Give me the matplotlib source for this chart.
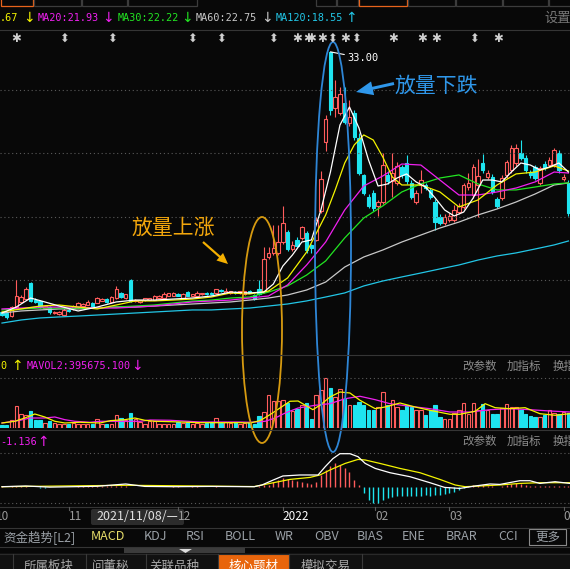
import numpy as np
import matplotlib
matplotlib.use("Agg")
import matplotlib.pyplot as plt
from matplotlib.patches import Ellipse, Rectangle, FancyArrow, FancyBboxPatch
from matplotlib.transforms import blended_transform_factory


# Daily candles, 2021/10/12 .. 2022/04/01
open_ = [12.5, 12.45, 12.2, 12.9, 13.3, 13.55, 14.8, 13.5, 13.4, 12.85,
         12.9, 12.45, 12.35, 12.3, 12.7, 12.8, 12.9, 13.0, 13.1, 13.25,
         13.25, 13.4, 13.55, 13.3, 13.65, 14.0, 13.6, 15.0, 13.35, 13.3,
         13.45, 13.5, 13.5, 13.65, 13.65, 13.8, 13.8, 13.95, 13.65, 14.1,
         13.8, 13.8, 13.9, 14.05, 14.05, 14.0, 14.25, 14.05, 14.0, 14.1,
         14.0, 13.9, 14.2, 13.85, 14.3, 14.1, 16.85, 17.17, 17.2, 18.0,
         18.8, 17.5, 18.2, 18.35, 18.7, 17.8, 18.2, 20.5, 25.9, 33.0,
         28.6, 28.2, 29.0, 27.4, 28.2, 26.2, 23.3, 21.6, 21.9, 20.9,
         21.2, 23.3, 22.8, 22.7, 23.9, 24.25, 22.7, 21.2, 22.5, 22.5,
         22.1, 21.2, 20.0, 19.55, 19.8, 19.8, 20.4, 20.8, 22.35, 21.7,
         22.5, 24.25, 23.15, 23.15, 21.4, 21.5, 23.3, 23.7, 24.25, 25.05,
         24.65, 23.55, 23.95, 22.7, 24.2, 24.1, 24.1, 25.05, 23.0, 22.7]
high = [12.6, 12.5, 13.0, 15.0, 13.85, 14.5, 14.9, 13.6, 13.5, 13.1,
        13.0, 12.6, 12.6, 12.8, 12.8, 13.1, 13.3, 13.25, 13.45, 13.3,
        13.7, 13.6, 13.6, 13.75, 14.6, 14.1, 13.95, 15.1, 13.55, 13.5,
        13.65, 13.65, 13.85, 13.85, 14.1, 14.05, 14.1, 14.0, 14.0, 14.15,
        13.95, 14.2, 14.05, 14.1, 14.1, 14.35, 14.3, 14.4, 14.2, 14.15,
        14.2, 14.2, 14.25, 13.9, 15.0, 17.6, 17.6, 19.4, 19.4, 20.9,
        19.0, 18.1, 18.4, 19.3, 18.9, 17.9, 20.0, 23.6, 28.0, 33.0,
        30.8, 30.2, 30.2, 29.2, 28.4, 26.6, 23.4, 21.8, 22.1, 21.3,
        25.0, 23.6, 25.0, 24.3, 24.1, 24.9, 22.9, 22.1, 23.7, 22.7,
        22.3, 21.4, 20.2, 20.25, 20.3, 20.95, 21.1, 22.7, 23.5, 24.2,
        24.6, 24.95, 23.7, 23.4, 21.6, 23.3, 24.5, 25.7, 25.75, 26.05,
        24.9, 23.7, 24.1, 24.0, 24.4, 24.7, 25.45, 25.3, 23.4, 22.9]
low = [12.2, 12.0, 12.1, 12.8, 13.2, 13.5, 13.3, 13.2, 12.8, 12.8,
       12.4, 12.35, 12.3, 12.2, 12.55, 12.7, 12.85, 12.95, 13.05, 12.9,
       13.2, 13.35, 13.25, 13.25, 13.55, 13.65, 13.55, 13.3, 13.3, 13.25,
       13.4, 13.45, 13.45, 13.6, 13.6, 13.75, 13.75, 13.75, 13.6, 13.75,
       13.75, 13.75, 13.85, 13.85, 13.85, 13.95, 14.1, 14.0, 13.95, 13.95,
       13.95, 13.85, 14.0, 13.5, 13.85, 14.0, 16.7, 17.0, 17.0, 17.9,
       17.3, 17.3, 17.6, 18.2, 17.2, 17.2, 18.1, 20.3, 25.2, 28.0,
       27.9, 28.0, 27.3, 27.2, 26.1, 23.3, 21.7, 20.7, 20.5, 20.1,
       21.0, 22.6, 21.6, 22.5, 23.1, 22.6, 21.4, 21.0, 21.9, 22.1,
       21.4, 19.0, 19.4, 19.4, 19.6, 19.6, 20.2, 20.6, 22.1, 21.5,
       20.0, 23.5, 23.0, 21.8, 20.7, 21.3, 23.1, 23.5, 24.0, 24.5,
       23.5, 23.1, 22.9, 22.5, 23.7, 23.9, 23.9, 23.5, 22.8, 20.1]
close = [12.25, 12.1, 12.9, 13.8, 13.7, 14.35, 13.4, 13.3, 12.9, 13.0,
         12.5, 12.5, 12.5, 12.7, 12.6, 13.0, 13.2, 13.15, 13.3, 12.95,
         13.6, 13.55, 13.3, 13.7, 14.35, 13.7, 13.9, 13.4, 13.5, 13.45,
         13.6, 13.6, 13.8, 13.8, 13.95, 14.0, 14.05, 13.8, 13.95, 13.8,
         13.9, 14.0, 14.0, 13.9, 13.9, 14.3, 14.15, 14.2, 14.15, 14.0,
         14.15, 14.15, 14.05, 13.55, 13.95, 16.7, 17.2, 17.56, 18.0, 19.5,
         17.5, 17.8, 17.7, 19.2, 17.4, 17.55, 19.8, 23.0, 27.7, 28.4,
         29.45, 29.7, 27.5, 27.9, 26.3, 23.5, 21.9, 20.9, 20.7, 21.2,
         24.1, 22.8, 23.5, 24.0, 23.3, 22.8, 21.6, 21.9, 22.9, 22.3,
         21.6, 19.6, 19.55, 20.0, 20.1, 20.55, 20.85, 22.5, 22.7, 23.9,
         23.2, 23.7, 23.45, 21.95, 20.9, 23.05, 24.3, 25.4, 25.4, 24.65,
         23.7, 23.3, 23.05, 23.85, 23.85, 24.5, 25.3, 23.7, 23.15, 20.3]

# volume, 万股
volume = [8, 8, 20, 55, 35, 33, 43, 20, 20, 13,
          18, 13, 10, 10, 10, 13, 10, 10, 10, 10,
          23, 10, 10, 10, 33, 25, 20, 38, 23, 15,
          10, 18, 18, 10, 10, 10, 10, 15, 13, 15,
          10, 13, 10, 13, 15, 25, 13, 15, 13, 15,
          10, 13, 15, 10, 30, 40, 83, 68, 68, 70,
          63, 43, 48, 57, 63, 23, 83, 95, 125, 100,
          78, 98, 73, 57, 57, 65, 57, 44, 44, 53,
          90, 57, 70, 53, 44, 57, 53, 46, 46, 32,
          44, 57, 28, 23, 23, 38, 44, 63, 36, 63,
          44, 61, 46, 34, 34, 51, 61, 53, 53, 46,
          34, 29, 28, 28, 32, 44, 38, 36, 40, 38]

# MACD histogram per day
macd_hist = [0.03, -0.04, 0.02, 0.08, 0.06, 0.05, -0.02, -0.05, -0.07, -0.06,
             -0.05, -0.04, -0.03, -0.02, 0.0, 0.01, 0.02, 0.02, 0.03, 0.02,
             0.04, 0.03, 0.02, 0.03, 0.06, 0.05, 0.03, -0.02, -0.04, -0.05,
             -0.04, -0.03, -0.02, -0.01, 0.0, 0.01, 0.02, 0.02, 0.01, 0.01,
             0.02, 0.02, 0.01, 0.01, 0.0, 0.02, 0.01, 0.01, 0.0, 0.0,
             -0.01, -0.02, -0.05, -0.05, 0.05, 0.12, 0.12, 0.3, 0.45, 0.58,
             0.51, 0.49, 0.40, 0.35, 0.23, 0.19, 0.35, 0.85, 1.2, 1.45,
             1.63, 1.52, 1.28, 1.05, 0.5, 0.12, -0.47, -0.93, -1.12, -1.17,
             -0.93, -0.82, -0.7, -0.68, -0.65, -0.63, -0.65, -0.68, -0.63, -0.6,
             -0.63, -0.6, -0.55, -0.5, -0.45, -0.35, -0.23, -0.12, 0.05, 0.12,
             0.1, 0.15, 0.08, 0.05, -0.03, 0.05, 0.12, 0.2, 0.25, 0.22,
             0.15, 0.08, 0.04, 0.05, 0.04, 0.06, 0.08, 0.05, 0.06, 0.07]

# moving average lines, sampled by day index
ma5_idx = [0, 3, 6, 9, 12, 16, 20, 24, 28, 32, 36, 40, 44, 48, 52, 55, 57, 59,
           61, 63, 65, 67, 69, 71, 73, 75, 77, 79, 81, 83, 85, 87, 89, 91, 93,
           95, 97, 99, 101, 103, 105, 107, 109, 111, 113, 115, 117, 119]
ma5 = [12.44, 12.91, 13.62, 13.31, 12.99, 12.6, 12.91, 13.31, 13.46, 13.46,
       13.54, 13.62, 13.78, 14.09, 14.02, 14.09, 14.72, 16.14, 17.0, 18.03,
       18.19, 20.55, 23.54, 27.24, 28.66, 27.0, 24.49, 22.44, 22.6, 23.07,
       23.39, 22.76, 22.36, 21.5, 20.55, 20.08, 20.39, 21.5, 22.91, 22.91,
       22.76, 23.54, 24.25, 24.09, 23.7, 23.94, 24.25, 23.54]
ma10_idx = [0, 4, 8, 12, 16, 20, 24, 28, 32, 36, 40, 44, 48, 52, 56, 60, 64,
            68, 70, 72, 74, 76, 78, 80, 82, 84, 88, 92, 96, 100, 104, 108,
            112, 116, 119]
ma10 = [12.52, 12.76, 12.99, 13.07, 12.91, 12.76, 13.07, 13.39, 13.39, 13.46,
        13.54, 13.7, 14.02, 13.94, 14.17, 15.2, 17.24, 20.16, 22.13, 24.25,
        25.67, 26.46, 26.06, 24.72, 23.15, 22.52, 22.52, 21.97, 20.79, 21.34,
        22.52, 23.39, 23.54, 24.02, 23.62]
ma_idx = [0, 4, 8, 12, 16, 20, 24, 28, 32, 36, 40, 44, 48, 52, 56, 60, 64,
          68, 72, 76, 80, 84, 88, 92, 96, 100, 104, 108, 112, 116, 119]
ma20 = [12.76, 12.83, 12.91, 12.91, 12.91, 12.83, 12.83, 12.91, 12.99, 13.15,
        13.31, 13.38, 13.46, 13.62, 13.78, 14.65, 16.22, 18.03, 20.55, 22.44,
        23.23, 24.17, 24.09, 22.91, 21.73, 21.73, 21.97, 22.28, 22.76, 23.54,
        23.46]
ma30 = [12.68, 12.76, 12.83, 12.83, 12.83, 12.83, 12.91, 12.99, 13.07, 13.23,
        13.38, 13.46, 13.62, 13.7, 14.09, 14.57, 15.43, 16.54, 18.35, 19.92,
        20.87, 21.97, 22.6, 23.07, 23.31, 22.6, 22.13, 22.13, 22.36, 22.6,
        22.68]
ma60 = [12.44, 12.6, 12.68, 12.76, 12.76, 12.83, 12.91, 12.91, 12.99, 13.07,
        13.15, 13.23, 13.31, 13.46, 13.62, 13.86, 14.25, 14.88, 16.06, 16.85,
        17.4, 18.03, 18.58, 19.13, 19.6, 20.16, 20.63, 21.18, 21.81, 22.52,
        22.68]
ma120 = [11.65, 11.89, 12.05, 12.13, 12.2, 12.28, 12.36, 12.44, 12.52, 12.6,
         12.68, 12.68, 12.76, 12.83, 12.99, 13.15, 13.39, 13.7, 14.02, 14.57,
         14.96, 15.28, 15.59, 15.91, 16.22, 16.61, 16.93, 17.17, 17.48, 17.8,
         18.11]

# volume averages
mavol1_idx = [0, 2.7, 4.8, 6.9, 9.0, 11.1, 13.2, 16.4, 20.6, 22.7, 25.8, 27.9,
              30.0, 32.1, 35.3, 41.6, 50.0, 52.1, 54.2, 56.3, 58.4, 60.5, 62.2,
              65.3, 66.8, 68.9, 71.0, 73.1, 75.2, 78.4, 80.5, 83.6, 86.8, 89.9,
              94.1, 96.2, 99.4, 101.5, 103.6, 106.7, 109.9, 113.0, 116.2, 119.3]
mavol1 = [12.5, 16.8, 25, 35, 27.5, 16.8, 12.5, 14.3, 12.5, 18.3, 20.8, 25,
          19.3, 16.8, 15.8, 13.3, 13.3, 12.5, 18.3, 33.3, 50, 66.8, 67.5,
          45.8, 56.8, 77.5, 90, 87.5, 69.3, 48.3, 52.5, 62.5, 52.5, 44.3,
          34.3, 34.3, 41.8, 60.8, 50.8, 48.3, 50.8, 35.8, 31.8, 35.8]
mavol2_idx = [0, 3.8, 5.9, 9.0, 11.1, 13.2, 15.3, 18.5, 20.6, 29.0, 31.1, 35.3,
              41.6, 50.0, 52.1, 55.3, 57.4, 59.5, 62.2, 65.8, 68.9, 72.1, 75.2,
              78.4, 81.5, 85.7, 89.9, 94.1, 98.3, 102.5, 106.7, 110.9, 115.1,
              119.3]
mavol2 = [12.5, 19.3, 25, 25, 27.5, 20.8, 16.8, 14.3, 16.8, 16.8, 20, 19.3,
          15, 15, 14.3, 16.8, 25, 37.5, 50, 56.8, 60.8, 73.3, 79.3, 70.8,
          60.8, 54.3, 48.3, 40, 40, 45.8, 48.3, 45.8, 42.5, 40]

# MACD lines
dif_idx = [0, 5, 10, 15, 20, 26, 30, 36, 44, 53, 54.6, 57, 59, 62.6, 66.4,
           67.9, 69.5, 71, 73.1, 74.8, 76.3, 78.4, 81.5, 85.7, 89.9, 93, 96.2,
           99.4, 102.5, 104.6, 108.8, 110.9, 113, 116.2, 119.3]
dif = [0.0, 0.05, -0.03, 0.0, 0.03, 0.19, 0.02, 0.0, 0.02, 0.0, 0.12, 0.47,
       0.75, 0.82, 0.82, 1.4, 1.96, 2.31, 2.31, 2.1, 1.63, 1.28, 0.98, 0.7,
       0.28, -0.05, -0.12, 0.05, 0.19, 0.16, 0.42, 0.42, 0.23, 0.35, 0.23]
dea_idx = [0, 26, 53, 56.3, 60.5, 64.7, 66.8, 68.9, 72.1, 74.8, 76.3, 79.4,
           83.6, 87.8, 92, 95.2, 97.3, 100.4, 104.6, 108.8, 113, 119.3]
dea = [0.0, 0.1, 0.01, 0.23, 0.51, 0.65, 0.82, 1.17, 1.63, 1.91, 1.87, 1.63,
       1.28, 0.98, 0.51, 0.12, 0.0, 0.05, 0.12, 0.23, 0.28, 0.28]

# event markers above the candles
event_idx = [3, 13, 23, 40, 46, 57, 62, 64.3, 65, 67.2, 69.3, 72.1, 74.4,
             82.1, 88.2, 91.2, 99.2, 104.2]
event_kind = ["s", "a", "a", "a", "a", "a", "s", "s", "s", "s", "a", "s", "a",
              "s", "s", "s", "a", "s"]

# month ticks
month_idx = [-1.3, 14, 37, 59, 78.4, 94, 118]
month_lbl = ["10", "11", "12", "2022", "02", "03", "04"]

indicators = ["资金趋势[L2]", "MACD", "KDJ", "RSI", "BOLL", "WR", "OBV",
              "BIAS", "ENE", "BRAR", "CCI"]
tabs = ["所属板块", "问董秘", "关联品种", "核心题材", "模拟交易"]


W, H = 570, 569
BG = "#080808"
RED = "#ff5c5c"
CYAN = "#1ee4ef"
GRAY_TXT = "#8c8c8c"
LINE = "#353535"
CJK = ["Noto Sans CJK SC", "DejaVu Sans"]
MONO = ["DejaVu Sans Mono", "DejaVu Sans"]

plt.rcParams["font.family"] = CJK

fig = plt.figure(figsize=(W / 100, H / 100), dpi=100, facecolor=BG)


def panel(top, bottom):
    ax = fig.add_axes([0, 1 - bottom / H, 1, (bottom - top) / H])
    ax.set_facecolor("none")
    ax.set_xlim(-0.42, 119.33)
    for s in ax.spines.values():
        s.set_visible(False)
    ax.set_xticks([])
    ax.set_yticks([])
    return ax


x = np.arange(len(close))
o, hi, lo, c = map(np.array, (open_, high, low, close))
up = c >= o
cols = [RED if u else CYAN for u in up]
fills = [BG if u else CYAN for u in up]
b_lo = np.minimum(o, c)
b_hi = np.maximum(o, c)

# price panel
ax_p = panel(45, 352)
ax_p.set_ylim(9.37, 33.54)
for g in (15, 20, 25, 30):
    ax_p.axhline(g, color="#5a5a5a", lw=0.8, ls=(0, (1, 2.5)))
ax_p.vlines(x, lo, b_lo, colors=cols, lw=0.8)
ax_p.vlines(x, b_hi, hi, colors=cols, lw=0.8)
ax_p.bar(x, np.maximum(b_hi - b_lo, 0.05), bottom=b_lo, width=0.72,
         color=fills, edgecolor=cols, linewidth=0.8)

ax_p.plot(ma_idx, ma120, color="#22c6e6", lw=0.9)
ax_p.plot(ma_idx, ma60, color="#c8c8c8", lw=0.9)
ax_p.plot(ma_idx, ma30, color="#22e622", lw=0.9)
ax_p.plot(ma_idx, ma20, color="#f020f0", lw=0.9)
ax_p.plot(ma10_idx, ma10, color="#f4f400", lw=0.9)
ax_p.plot(ma5_idx, ma5, color="#ffffff", lw=0.9)

ax_p.annotate("33.00", xy=(69, 33.0), xytext=(12, -4.5),
              textcoords="offset points", color="white", fontsize=7.5,
              family=MONO, ha="left", va="center",
              arrowprops=dict(arrowstyle="-", color="white", lw=0.8,
                              shrinkA=0, shrinkB=0))

# volume panel
ax_v = panel(372, 428)
ax_v.set_ylim(0, 140)
ax_v.axhline(125, color="#5a5a5a", lw=0.8, ls=(0, (1, 2.5)))
ax_v.bar(x, volume, width=0.72, color=fills, edgecolor=cols, linewidth=0.8)
ax_v.plot(mavol2_idx, mavol2, color="#f020f0", lw=0.9)
ax_v.plot(mavol1_idx, mavol1, color="#f4f400", lw=0.9)

# MACD panel
ax_m = panel(446, 506)
ax_m.set_ylim(-1.351, 2.849)
for g in (2.36, -1.14):
    ax_m.axhline(g, color="#5a5a5a", lw=0.8, ls=(0, (1, 2.5)))
hist = np.array(macd_hist)
ax_m.vlines(x, 0, hist, colors=[RED if v >= 0 else CYAN for v in hist], lw=1.0)
ax_m.plot(dea_idx, dea, color="#f4f400", lw=0.9)
ax_m.plot(dif_idx, dif, color="#ffffff", lw=0.9)

# overlay in pixel units
ov = fig.add_axes([0, 0, 1, 1])
ov.set_xlim(0, W)
ov.set_ylim(H, 0)
ov.axis("off")
ov.patch.set_alpha(0)
tr = blended_transform_factory(ax_p.transData, ov.transData)

# top tab strip
for x0, x1, act in [(0, 33, True), (33, 81, False), (81, 127, False),
                    (127, 197, False), (315, 336, False), (336, 358, False),
                    (358, 407, True), (407, 455, False), (455, 502, False),
                    (502, 548, False), (548, 575, False)]:
    ov.add_patch(Rectangle((x0 + 0.5, -6), x1 - x0 - 1, 11.5, fill=False,
                           edgecolor="#e8641c" if act else "#3c3c3c", lw=0.9))

# MA legend row
y0 = 18
for xx, txt, colr in [(0, ".67", "#f4f400"), (38, "MA20:21.93", "#f020f0"),
                      (118, "MA30:22.22", "#22e622"),
                      (196, "MA60:22.75", "#c8c8c8"),
                      (276, "MA120:18.55", "#22c6e6")]:
    ov.text(xx, y0, txt, color=colr, fontsize=7.3, family=MONO,
            ha="left", va="center")
for xx, txt, colr in [(29, "↓", "#f4f400"), (108, "↓", "#f020f0"),
                      (187, "↓", "#22e622"), (267, "↓", "#c8c8c8"),
                      (351, "↑", "#22c6e6")]:
    ov.text(xx, y0, txt, color=colr, fontsize=10, family=["DejaVu Sans"],
            ha="center", va="center")
ov.text(544, y0, "设置", color="#777777", fontsize=9.5, ha="left", va="center")
ov.plot([0, W], [29.5, 29.5], color=LINE, lw=0.8)

# event markers
for ei, kind in zip(event_idx, event_kind):
    ov.text(ei, 38, "✱" if kind == "s" else "⬍", transform=tr,
            color="#cfcfcf", fontsize=8.5, family=["DejaVu Sans"],
            ha="center", va="center")

# panel separators
for yy in (354.5, 429.5, 506.5, 527.5, 546.5):
    ov.plot([0, W], [yy, yy], color=LINE, lw=0.8)

# volume header
for xx, txt, colr in [(0, "0", "#f4f400"), (27, "MAVOL2:395675.100", "#f020f0")]:
    ov.text(xx, 366, txt, color=colr, fontsize=7.3, family=MONO,
            ha="left", va="center")
for xx, txt, colr in [(17, "↑", "#f4f400"), (137, "↓", "#f020f0")]:
    ov.text(xx, 366, txt, color=colr, fontsize=10, family=["DejaVu Sans"],
            ha="center", va="center")
# MACD header
ov.text(0, 442, "-1.136", color="#f020f0", fontsize=7.3, family=MONO,
        ha="left", va="center")
ov.text(43, 442, "↑", color="#f020f0", fontsize=10, family=["DejaVu Sans"],
        ha="center", va="center")
for yy in (366, 441):
    for xx, txt in [(462, "改参数"), (507, "加指标"), (553, "换指标")]:
        ov.text(xx, yy, txt, color=GRAY_TXT, fontsize=8.3, ha="left",
                va="center")

# annotations
ov.add_patch(Ellipse((262, 330), 40, 226, fill=False, edgecolor="#d69a10",
                     lw=1.3))
ov.add_patch(Ellipse((333, 247), 36, 410, fill=False, edgecolor="#2e86d6",
                     lw=1.3))
ov.text(173, 228, "放量上涨", color="#f2a60c", fontsize=15, ha="center",
        va="center")
ov.add_patch(FancyArrow(203, 242, 25, 22, width=2.2, head_width=10,
                        head_length=11, length_includes_head=True,
                        color="#f5b000", lw=0))
ov.text(436, 86, "放量下跌", color="#2f97ea", fontsize=15, ha="center",
        va="center")
ov.add_patch(FancyArrow(394, 83.5, -38, 8.5, width=3, head_width=14,
                        head_length=17, length_includes_head=True,
                        color="#2f97ea", lw=0))

# month axis
for mi, lbl in zip(month_idx, month_lbl):
    ov.plot([mi, mi], [506.5, 509.5], color="#5a5a5a", lw=0.8, transform=tr)
    ov.text(mi, 517, lbl, transform=tr, ha="left", va="center",
            fontsize=8.5, color="white" if lbl == "2022" else "#9a9a9a")
ov.add_patch(FancyBboxPatch((91, 509), 93, 16,
                            boxstyle="round,pad=0,rounding_size=2",
                            facecolor="#2c2c2c", edgecolor="none"))
ov.text(137.5, 517, "2021/11/08/—", color="#e0e0e0", fontsize=9,
        ha="center", va="center")

# indicator row
for xx, txt in zip([3, 91, 144, 186, 225, 275, 314, 357, 402, 446, 498],
                   indicators):
    ov.text(xx, 537, txt, color="#e8de6a" if txt == "MACD" else "#9aa0a6",
            fontsize=9, ha="left", va="center")
ov.add_patch(Rectangle((529, 528.5), 37, 16.5, fill=False,
                       edgecolor="#8a8a8a", lw=0.8))
ov.text(547.5, 537, "更多", color="#9aa0a6", fontsize=9, ha="center",
        va="center")

# bottom tabs
ov.add_patch(Rectangle((124, 547), 121, 6, facecolor="#3c3c3c",
                       edgecolor="none"))
ov.fill([179, 192, 185.5], [549, 549, 553], color="#dddddd", lw=0)
ov.add_patch(Rectangle((0, 553), W, 17, facecolor="#111111", edgecolor="none"))
ov.plot([0, W], [553.5, 553.5], color="#2a2a2a", lw=0.8)
ov.add_patch(Rectangle((218, 553.5), 71, 16, facecolor="#e8650c",
                       edgecolor="none"))
for sx in (13, 86, 146, 218, 289, 362):
    ov.plot([sx, sx], [553.5, 569], color="#3a3a3a", lw=0.8)
for xx, txt in zip([49, 111, 174, 254, 326], tabs):
    ov.text(xx, 566, txt, color="white" if txt == "核心题材" else "#a8a8a8",
            fontsize=9, ha="center", va="center")

fig.savefig("out.png", dpi=100, facecolor=BG)
